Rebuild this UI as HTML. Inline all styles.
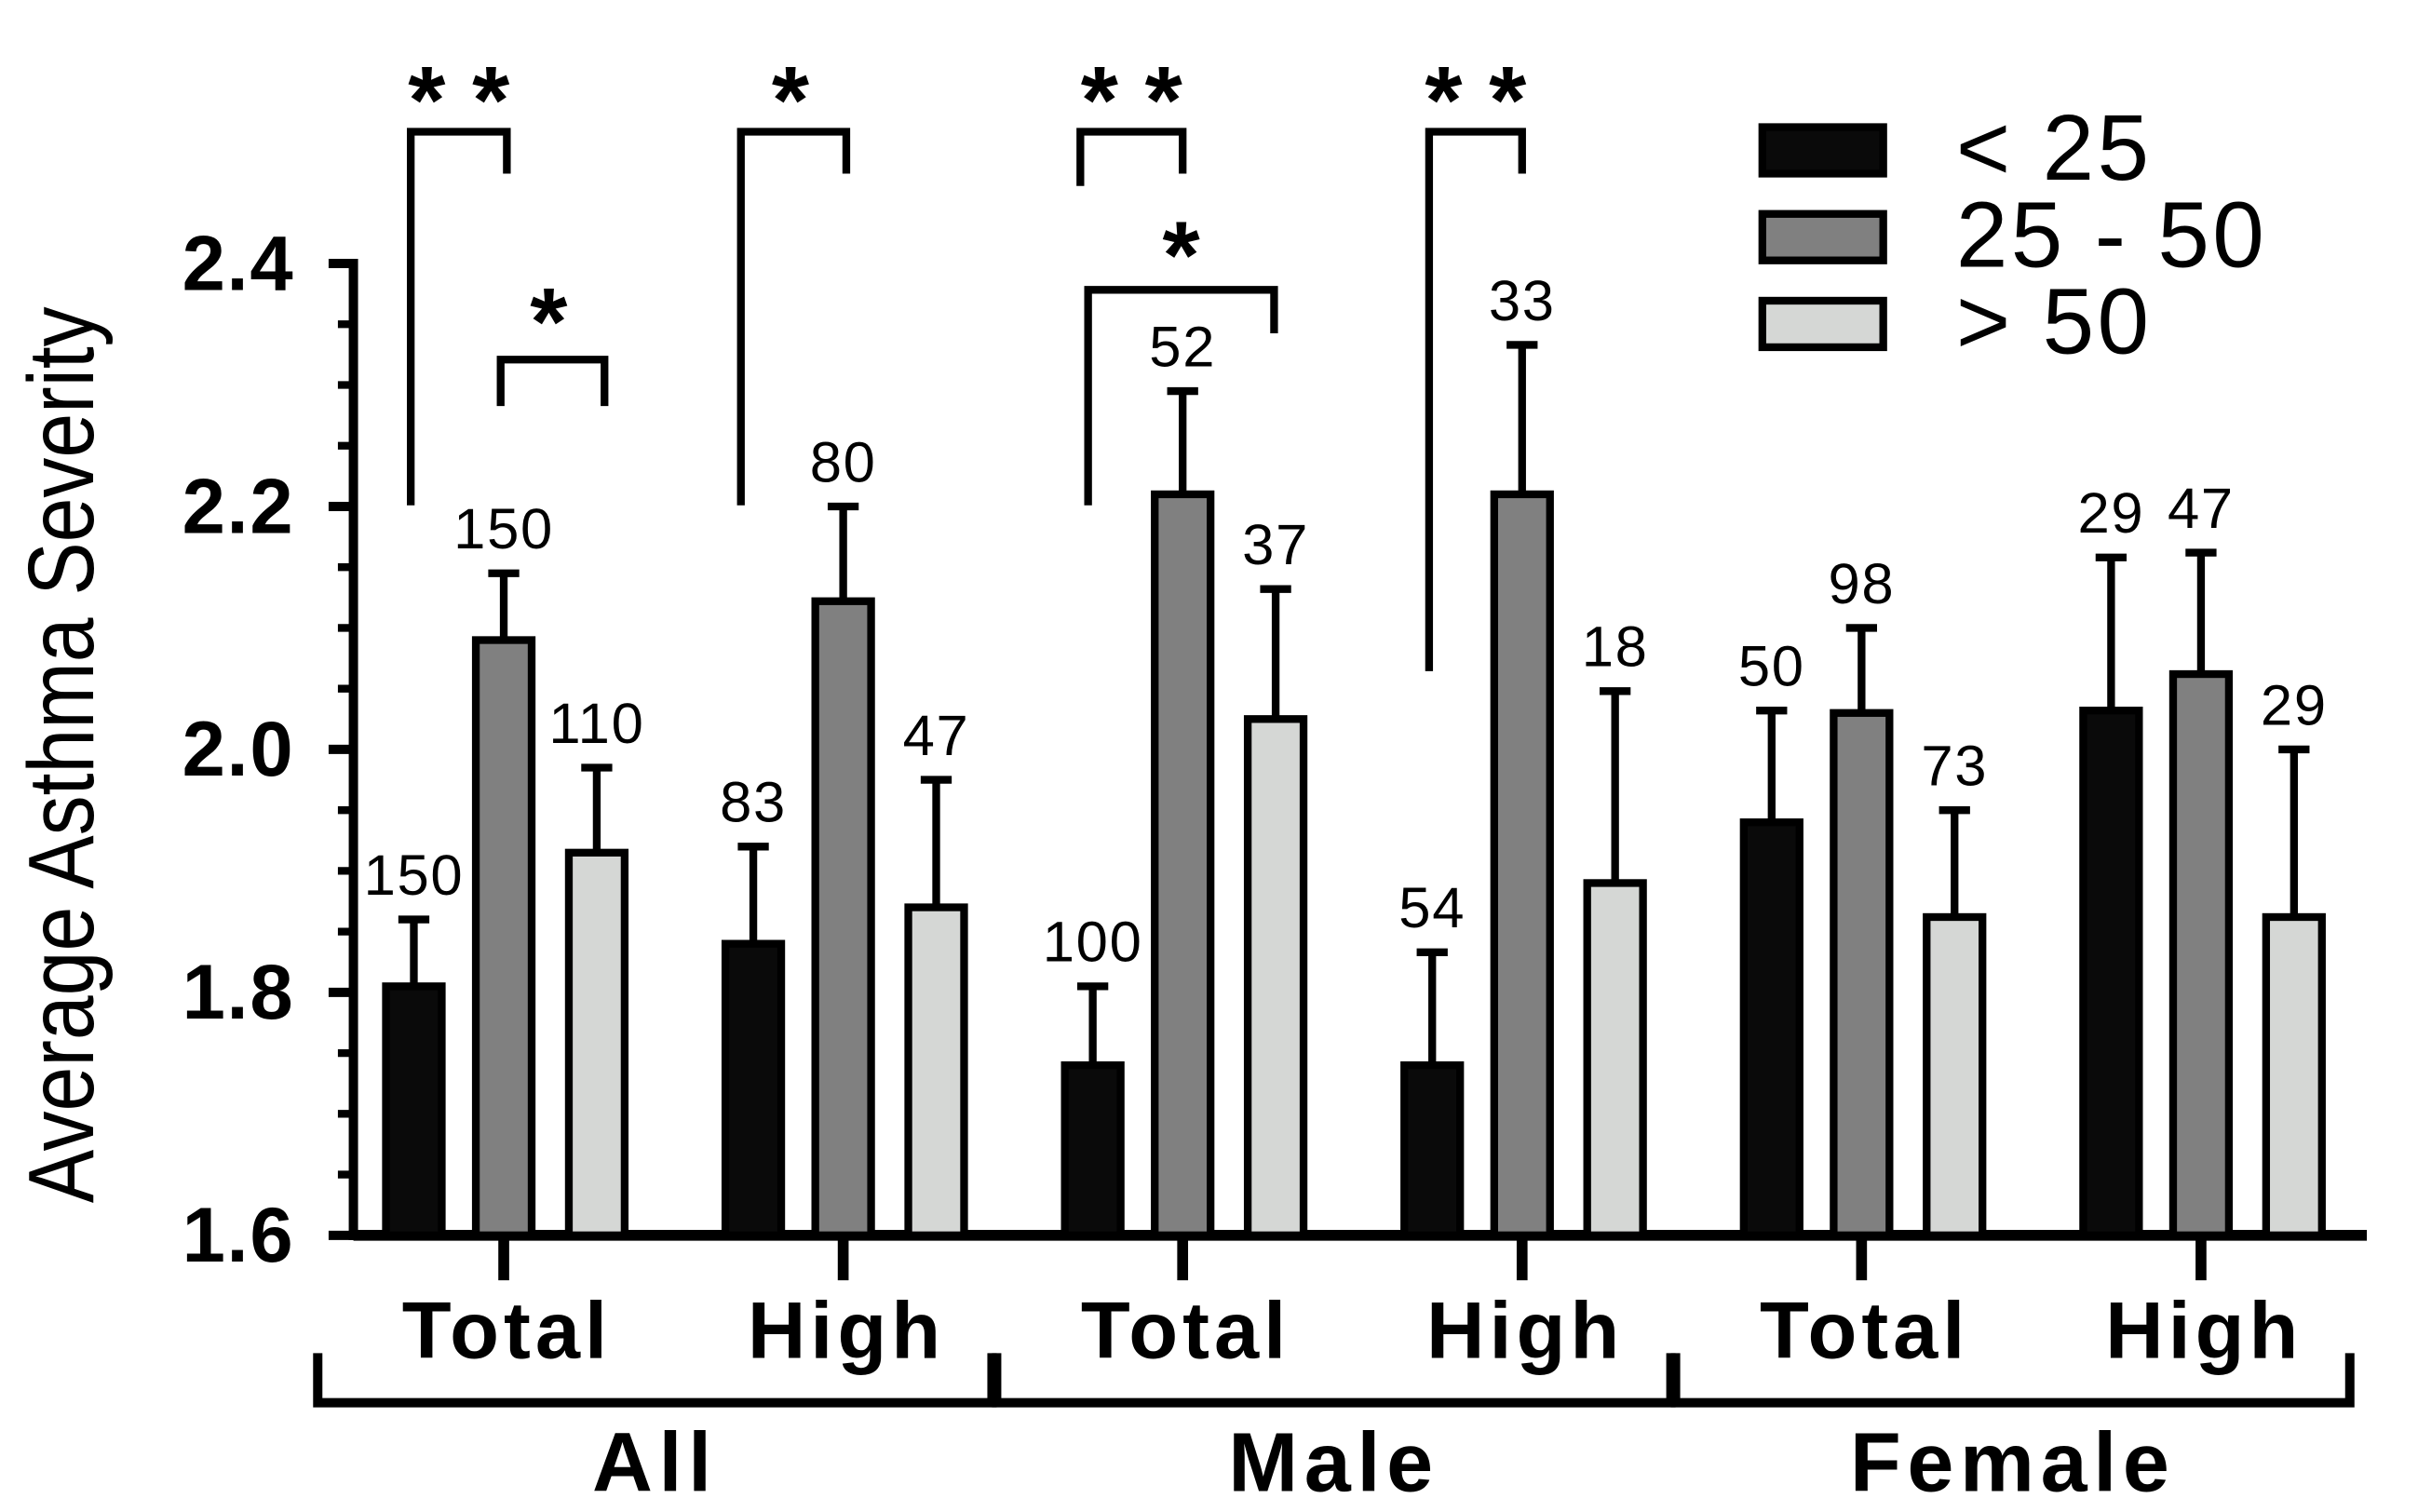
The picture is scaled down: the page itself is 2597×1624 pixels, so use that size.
<!DOCTYPE html>
<html><head><meta charset="utf-8"><style>
html,body{margin:0;padding:0;background:#fff;}
svg{display:block;}
text{font-family:"Liberation Sans",Arial,sans-serif;}
</style></head><body>
<svg id="chart" width="2597" height="1624" viewBox="0 0 1560 975.5" xmlns="http://www.w3.org/2000/svg">
<g id="axes"></g><g id="bars"></g><g id="sig"></g><g id="legend"></g>
</svg>
<script>
const categories = ["All Total","All High","Male Total","Male High","Female Total","Female High"];
const subLabels = ["Total","High","Total","High","Total","High"];
const groups = ["All","Male","Female"];
const seriesNames = ["< 25","25 - 50","> 50"];
const valsLow = [1.805,1.84,1.74,1.74,1.94,2.032];
const valsMid = [2.09,2.122,2.21,2.21,2.03,2.062];
const valsHigh = [1.915,1.87,2.025,1.89,1.862,1.862];
const errLow = [1.86,1.92,1.805,1.833,2.032,2.158];
const errMid = [2.145,2.20,2.295,2.333,2.10,2.162];
const errHigh = [1.985,1.975,2.132,2.048,1.95,2.0];
const nLow = ["150","83","100","54","50","29"];
const nMid = ["150","80","52","33","98","47"];
const nHigh = ["110","47","37","18","73","29"];
const yTicks = [1.6,1.8,2.0,2.2,2.4];
const yTickLabels = ["1.6","1.8","2.0","2.2","2.4"];

const NS="http://www.w3.org/2000/svg";
const y0=797, y1=170, vMin=1.6, vMax=2.4;
const yS=v=>y0-(v-vMin)/(vMax-vMin)*(y0-y1);
const xC=i=>325+i*219;
const offs=[-58,0,60];
const fills=["#0a0a0a","#808080","#d5d7d5"];
function mk(tag,attrs,parent,txt){const e=document.createElementNS(NS,tag);for(const k in attrs)e.setAttribute(k,attrs[k]);if(txt!==undefined)e.textContent=txt;parent.appendChild(e);return e;}
const axes=document.getElementById('axes'),bars=document.getElementById('bars'),sig=document.getElementById('sig'),leg=document.getElementById('legend');

let e=mk('line',{x1:228,y1:y1-3,x2:228,y2:y0+3,stroke:'#000','stroke-width':6},axes);


for(let v=1.6;v<=2.4001;v+=0.05){
  const major=Math.abs((v*10)-Math.round(v*10))<0.01&&Math.round(v*10)%2===0;
  e=mk('line',{x1:major?212:218,y1:yS(v),x2:228,y2:yS(v),stroke:'#000','stroke-width':major?6:5},axes);
  
  
}
yTicks.forEach((v,i)=>{
  e=mk('text',{x:190,y:yS(v)+17,'text-anchor':'end','font-size':50,'font-weight':'bold','letter-spacing':1},axes,yTickLabels[i]);
  
  
});
e=mk('text',{x:0,y:0,'text-anchor':'middle','font-size':60,transform:'translate(60,487) rotate(-90) scale(0.86,1)'},axes,'Average Asthma Severity');


e=mk('line',{x1:228,y1:y0,x2:1527,y2:y0,stroke:'#000','stroke-width':7},axes);


categories.forEach((c,i)=>{
  e=mk('line',{x1:xC(i),y1:y0,x2:xC(i),y2:826,stroke:'#000','stroke-width':7},axes);
  
  
  e=mk('text',{x:xC(i)+2,y:876,'text-anchor':'middle','font-size':52,'font-weight':'bold','letter-spacing':3},axes,subLabels[i]);
  
  
});
groups.forEach((g,k)=>{
  const a=xC(2*k)-120, b=xC(2*k+1)+96;
  e=mk('path',{d:`M${a},873 V905 H${b} V873`,fill:'none',stroke:'#000','stroke-width':6},axes);
  
  
  e=mk('text',{x:(a+b)/2,y:962,'text-anchor':'middle','font-size':54,'font-weight':'bold','letter-spacing':4},axes,g);
  
  
});
const vals=[valsLow,valsMid,valsHigh],errs=[errLow,errMid,errHigh],ns=[nLow,nMid,nHigh];
categories.forEach((c,i)=>{
  for(let s=0;s<3;s++){
    const cx=xC(i)+offs[s], top=yS(vals[s][i]), et=yS(errs[s][i]);
    e=mk('line',{x1:cx,y1:top,x2:cx,y2:et,stroke:'#000','stroke-width':5},bars);
    
    
    e=mk('line',{x1:cx-10,y1:et,x2:cx+10,y2:et,stroke:'#000','stroke-width':5},bars);
    
    
    e=mk('rect',{x:cx-18,y:top,width:36,height:y0-top,fill:fills[s],stroke:'#000','stroke-width':5},bars);
    
    
    e=mk('text',{x:cx,y:et-16,'text-anchor':'middle','font-size':37,'letter-spacing':1},bars,ns[s][i]);
    
    
  }
});
const sigs=[[265,326,327,112,85,'* *',296,72],[323,262,390,262,232,'*',354,215],[478,326,546,112,85,'*',510,72],[697,120,763,112,85,'* *',730,72],[702,326,822,215,187,'*',762,172],[922,433,982,112,85,'* *',952,72]];
sigs.forEach(q=>{
  e=mk('path',{d:`M${q[0]},${q[1]} V${q[4]} H${q[2]} V${q[3]}`,fill:'none',stroke:'#000','stroke-width':5},sig);
  
  
  e=mk('text',{x:q[6],y:q[7]+14,'text-anchor':'middle','font-size':62,'font-weight':'bold'},sig,q[5]);
  
  
});
seriesNames.forEach((n,s)=>{
  const y=82+s*56;
  e=mk('rect',{x:1137,y:y,width:78,height:30,fill:fills[s],stroke:'#000','stroke-width':5},leg);
  
  
  e=mk('text',{x:1262,y:y+34,'font-size':60,'letter-spacing':2},leg,n);
  
  
});
</script>
</body></html>
